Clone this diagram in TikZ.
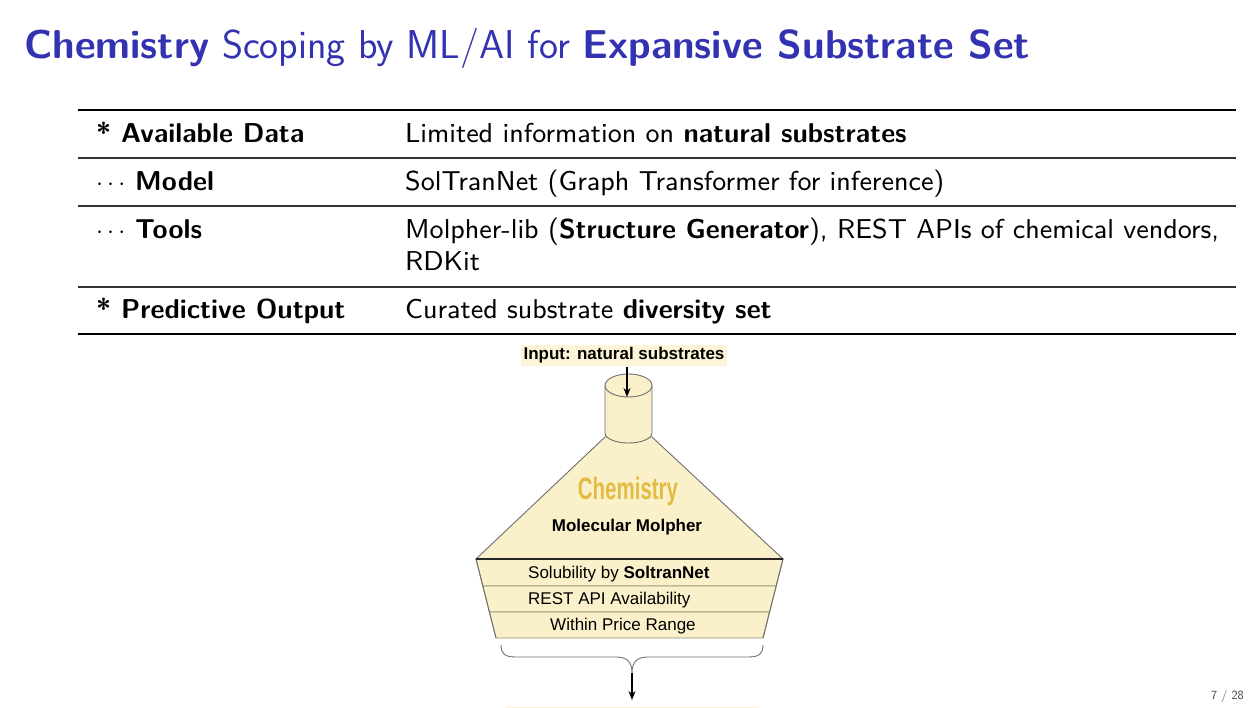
\documentclass[tikz,border=0pt]{standalone}
\usepackage{fontspec}
\newfontfamily\arial{Liberation Sans}
\newfontfamily\tablesf{lmsans9-regular.otf}[BoldFont=lmsans10-bold.otf]
\usetikzlibrary{arrows.meta}
\definecolor{structure}{rgb}{0.2,0.2,0.7}
\definecolor{funnelfill}{RGB}{250,241,203}
\definecolor{hilite}{RGB}{253,245,216}
\definecolor{funneledge}{RGB}{110,110,110}
\definecolor{layeredge}{RGB}{150,142,115}
\definecolor{golden}{RGB}{226,188,64}
\begin{document}
\begin{tikzpicture}[x=1pt,y=-1pt,
  titletext/.style={anchor=base west,inner sep=0pt,font=\sffamily\fontsize{40.3}{48}\selectfont,text=structure},
  cellhead/.style={anchor=base west,inner sep=0pt,font=\tablesf\bfseries\fontsize{27.3}{32}\selectfont},
  cellbody/.style={anchor=base west,inner sep=0pt,align=left,font=\tablesf\fontsize{27.3}{32}\selectfont},
  thickrule/.style={line width=2pt},
  thinrule/.style={line width=1.1pt,black!80},
  dgtext/.style={inner sep=0pt,font=\arial\fontsize{17}{20}\selectfont},
  flowarrow/.style={line width=1.4pt,-{Stealth[length=9pt,width=7pt]}},
  funnelpart/.style={fill=funnelfill,draw=funneledge,line width=0.9pt,line join=round}]
\useasboundingbox (0,0) rectangle (1259,708);

% slide title
\node[titletext] (title) at (24,59) {\textbf{Chemistry} Scoping by ML/AI for \textbf{Expansive Substrate Set}};

% table
\draw[thickrule] (78,110) -- (1236,110);
\draw[thinrule] (78,158) -- (1236,158);
\draw[thinrule] (78,206) -- (1236,206);
\draw[thinrule] (78,287) -- (1236,287);
\draw[thickrule] (78,334) -- (1236,334);

\node[cellhead] (h1) at (96,143) {* Available Data};
\node[cellhead] (h2) at (96,191) {$\cdots$ Model};
\node[cellhead] (h3) at (96,239) {$\cdots$ Tools};
\node[cellhead] (h4) at (96,319) {* Predictive Output};

\node[cellbody] (b1) at (405,143) {Limited information on \textbf{natural substrates}};
\node[cellbody] (b2) at (405,191) {SolTranNet (Graph Transformer for inference)};
\node[cellbody] (b3) at (405,239) {Molpher-lib (\textbf{Structure Generator}), REST APIs of chemical vendors,};
\node[cellbody] (b3b) at (405,271) {RDKit};
\node[cellbody] (b4) at (405,319) {Curated substrate \textbf{diversity set}};

% funnel: hood
\draw[funnelpart] (605,437) -- (476,559) -- (783,559) -- (652,437) -- cycle;
% funnel: filter layers
\draw[funnelpart,draw=layeredge] (476,559) -- (783,559) -- (776.2,586) -- (482.8,586) -- cycle;
\draw[funnelpart,draw=layeredge] (482.8,586) -- (776.2,586) -- (769.6,612) -- (489.4,612) -- cycle;
\draw[funnelpart,draw=layeredge] (489.4,612) -- (769.6,612) -- (763,638) -- (496,638) -- cycle;
\draw[funneledge,line width=0.9pt] (496,638) -- (476,559) -- (783,559) -- (763,638);
\draw[black!85,line width=1.1pt] (476,559) -- (783,559);

% funnel: input cylinder
\draw[funnelpart] (605,385.5) -- (605,433) arc[start angle=180,end angle=0,x radius=23.5,y radius=10] -- (652,385.5);
\draw[funnelpart] (628.5,385.5) ellipse[x radius=23.5,y radius=11.5];
\coordinate (cyl) at (627,397);

% labels
\node[dgtext,fill=hilite,inner xsep=3pt,inner ysep=3pt,font=\arial\bfseries\fontsize{17}{20}\selectfont] (inp) at (624,355.5) {Input: natural substrates};
\draw[flowarrow] (inp.south -| cyl) -- (cyl);

\node[dgtext,text=golden] (chem) at (628,491) {\scalebox{0.66}[1]{\fontsize{31}{34}\selectfont\bfseries Chemistry}};
\node[dgtext,font=\arial\bfseries\fontsize{17}{20}\selectfont] (molpher) at (627,527) {Molecular Molpher};
\node[dgtext,anchor=base west] (sol) at (528,578) {Solubility by \textbf{SoltranNet}};
\node[dgtext,anchor=base west] (rest) at (528,604) {REST API Availability};
\node[dgtext,anchor=base west] (price) at (550,630) {Within Price Range};

% collecting brace and output arrow
\coordinate (brL) at (501,645);
\coordinate (brR) at (763,645);
\coordinate (brTip) at (632,673);
\draw[black!55,line width=0.9pt] (brL) .. controls (501,654) and (505,657) .. (516,657)
  -- (616,657) .. controls (627,657) and (632,662) .. (brTip)
  .. controls (632,662) and (637,657) .. (648,657)
  -- (748,657) .. controls (759,657) and (763,654) .. (brR);
\fill[hilite] (505,706.5) rectangle (758,712);
\draw[flowarrow] (brTip) -- (632,700);

% page number
\node[anchor=base east,inner sep=0pt,font=\sffamily\fontsize{12.5}{14}\selectfont,text=black!75] (page) at (1244,699) {7 / 28};
\end{tikzpicture}
\end{document}
